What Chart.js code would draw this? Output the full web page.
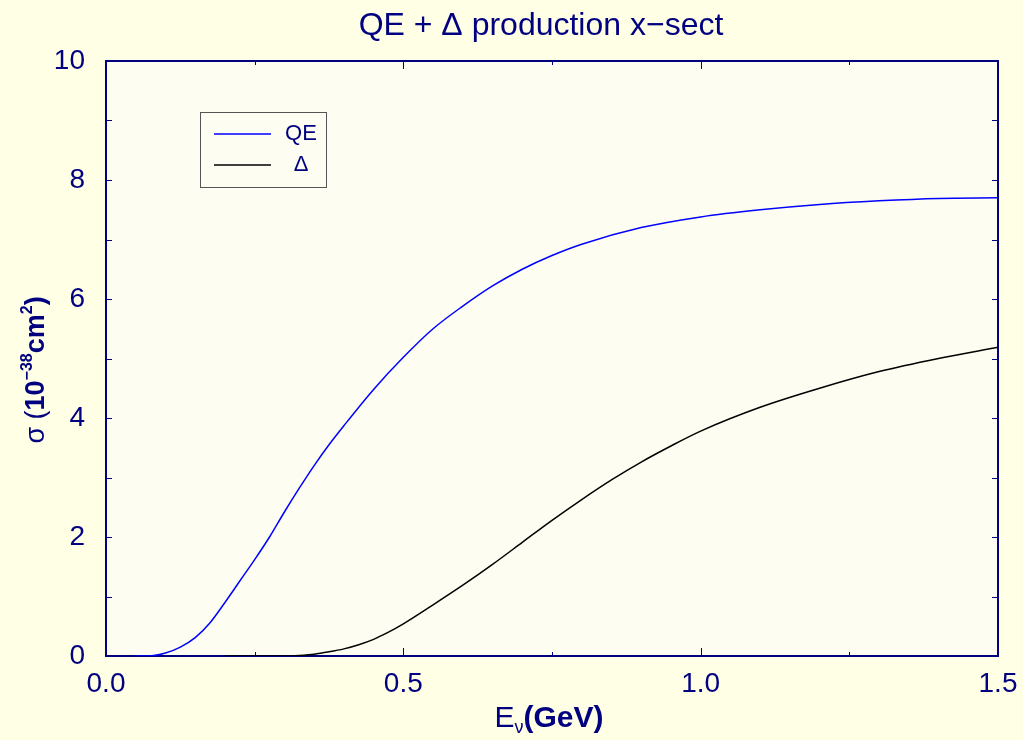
<!DOCTYPE html>
<html>
<head>
<meta charset="utf-8">
<script src="https://cdn.jsdelivr.net/npm/chart.js@4.4.0/dist/chart.umd.min.js"></script>
<style>
  html, body { margin: 0; padding: 0; background: #ffffe6; }
  #box { width: 1023px; height: 740px; }
</style>
</head>
<body>
<div id="box"><canvas id="xsect"></canvas></div>
<script>
"use strict";

// neutrino energy (GeV) and cross sections (10^-38 cm^2)
const qeEnergy = [0.05, 0.08, 0.10, 0.125, 0.15, 0.175, 0.20, 0.225, 0.25, 0.275, 0.30, 0.325, 0.35, 0.375, 0.40, 0.45, 0.50, 0.55, 0.60, 0.65, 0.70, 0.75, 0.80, 0.90, 1.00, 1.10, 1.20, 1.30, 1.40, 1.50];
const qeSigma = [0, 0.01, 0.05, 0.15, 0.31, 0.56, 0.90, 1.26, 1.62, 2.0, 2.42, 2.82, 3.20, 3.55, 3.87, 4.48, 5.02, 5.50, 5.88, 6.22, 6.50, 6.73, 6.92, 7.20, 7.38, 7.50, 7.59, 7.65, 7.69, 7.70];

const deltaEnergy = [0.20, 0.25, 0.30, 0.325, 0.35, 0.375, 0.40, 0.425, 0.45, 0.475, 0.50, 0.55, 0.60, 0.65, 0.70, 0.75, 0.80, 0.85, 0.90, 0.95, 1.00, 1.10, 1.20, 1.30, 1.40, 1.50];
const deltaSigma = [0, 0, 0, 0.01, 0.03, 0.07, 0.12, 0.19, 0.28, 0.40, 0.54, 0.86, 1.19, 1.54, 1.91, 2.28, 2.63, 2.96, 3.26, 3.53, 3.78, 4.18, 4.50, 4.78, 5.00, 5.19];

const xTicks = [0, 0.5, 1.0, 1.5];
const yTicks = [0, 2, 4, 6, 8, 10];

const navy = "#000080";
const fontName = "'Liberation Sans', Arial, sans-serif";

function points(xs, ys) {
  return xs.map((x, i) => ({ x: x, y: ys[i] }));
}

// draw a run of text pieces, each with its own font and vertical shift
function drawPieces(ctx, pieces, x, y, align) {
  let total = 0;
  pieces.forEach((p) => {
    ctx.font = p.font;
    p.w = ctx.measureText(p.text).width;
    total += p.w;
  });
  let cx = align === "center" ? x - total / 2 : x;
  pieces.forEach((p) => {
    ctx.font = p.font;
    ctx.fillText(p.text, cx, y + (p.dy || 0));
    cx += p.w;
  });
}

const framePlugin = {
  id: "frame",
  beforeDraw(chart) {
    const { ctx, chartArea: a } = chart;
    ctx.save();
    ctx.fillStyle = "#ffffe6";
    ctx.fillRect(0, 0, chart.width, chart.height);
    ctx.fillStyle = "#fdfdf2";
    ctx.fillRect(a.left, a.top, a.right - a.left, a.bottom - a.top);
    ctx.restore();
  },
  // frame and inward ticks go under the curves
  beforeDatasetsDraw(chart) {
    const { ctx, chartArea: a, scales } = chart;
    const xs = scales.x;
    const ys = scales.y;
    ctx.save();
    ctx.strokeStyle = navy;
    ctx.lineWidth = 2;
    ctx.strokeRect(a.left, a.top, a.right - a.left, a.bottom - a.top);

    ctx.lineWidth = 1;
    ctx.beginPath();
    for (let v = 0.25; v < 1.5; v += 0.25) {
      const px = Math.round(xs.getPixelForValue(v)) + 0.5;
      const len = Math.abs(v % 0.5) < 1e-6 ? 8 : 4;
      ctx.moveTo(px, a.bottom);
      ctx.lineTo(px, a.bottom - len);
      ctx.moveTo(px, a.top);
      ctx.lineTo(px, a.top + len);
    }
    for (let v = 1; v < 10; v++) {
      const py = Math.round(ys.getPixelForValue(v)) + 0.5;
      ctx.moveTo(a.left, py);
      ctx.lineTo(a.left + 6, py);
      ctx.moveTo(a.right, py);
      ctx.lineTo(a.right - 6, py);
    }
    ctx.stroke();
    ctx.restore();
  },
  afterDraw(chart) {
    const { ctx, chartArea: a } = chart;
    ctx.save();

    // title
    ctx.fillStyle = navy;
    ctx.textBaseline = "alphabetic";
    ctx.textAlign = "left";
    drawPieces(ctx, [{ text: "QE + \u0394 production x\u2212sect", font: "32px " + fontName }], 541, 35, "center");

    // x axis title
    drawPieces(ctx, [
      { text: "E", font: "30px " + fontName },
      { text: "\u03bd", font: "18px " + fontName, dy: 6 },
      { text: "(GeV)", font: "bold 30px " + fontName },
    ], 549, 727, "center");

    // y axis title
    ctx.save();
    ctx.translate(44, 370);
    ctx.rotate(-Math.PI / 2);
    drawPieces(ctx, [
      { text: "\u03c3 (", font: "27px " + fontName },
      { text: "10", font: "bold 27px " + fontName },
      { text: "\u221238", font: "bold 16px " + fontName, dy: -12 },
      { text: "cm", font: "bold 27px " + fontName },
      { text: "2", font: "bold 16px " + fontName, dy: -12 },
      { text: ")", font: "bold 27px " + fontName },
    ], 0, 0, "center");
    ctx.restore();

    // legend box
    const lx = a.left + 94;
    const ly = a.top + 51;
    ctx.strokeStyle = "#555555";
    ctx.lineWidth = 1;
    ctx.strokeRect(lx + 0.5, ly + 0.5, 126, 75);
    chart.data.datasets.forEach((ds, i) => {
      const ry = ly + 22 + i * 31;
      ctx.strokeStyle = ds.borderColor;
      ctx.lineWidth = 1.5;
      ctx.beginPath();
      ctx.moveTo(lx + 14, ry);
      ctx.lineTo(lx + 71, ry);
      ctx.stroke();
      ctx.fillStyle = navy;
      ctx.font = "22px " + fontName;
      ctx.textBaseline = "middle";
      ctx.textAlign = "center";
      ctx.fillText(ds.label, lx + 101, ry);
    });
    ctx.restore();
  },
};

const ctxXsect = document.getElementById("xsect");

new Chart(ctxXsect, {
  type: "line",
  data: {
    datasets: [
      {
        label: "QE",
        data: points(qeEnergy, qeSigma),
        borderColor: "#0000ff",
        borderWidth: 1.5,
        pointRadius: 0,
        cubicInterpolationMode: "monotone",
      },
      {
        label: "\u0394",
        data: points(deltaEnergy, deltaSigma),
        borderColor: "#000000",
        borderWidth: 1.5,
        pointRadius: 0,
        cubicInterpolationMode: "monotone",
      },
    ],
  },
  options: {
    responsive: true,
    maintainAspectRatio: false,
    animation: false,
    layout: {
      padding: { top: 61, right: 25, left: 0, bottom: 0 },
    },
    plugins: {
      legend: { display: false },
      tooltip: { enabled: false },
    },
    scales: {
      x: {
        type: "linear",
        min: 0,
        max: 1.5,
        afterBuildTicks: (scale) => {
          scale.ticks = xTicks.map((v) => ({ value: v }));
        },
        afterFit: (scale) => {
          scale.height = 84;
          scale.paddingLeft = 0;
          scale.paddingRight = 0;
        },
        grid: { display: false, drawTicks: false },
        border: { display: false },
        ticks: {
          color: navy,
          padding: 11,
          maxRotation: 0,
          font: { family: fontName, size: 28 },
          callback: (v) => Number(v).toFixed(1),
        },
      },
      y: {
        min: 0,
        max: 10,
        afterBuildTicks: (scale) => {
          scale.ticks = yTicks.map((v) => ({ value: v }));
        },
        afterFit: (scale) => {
          scale.width = 106;
          scale.paddingTop = 0;
          scale.paddingBottom = 0;
        },
        grid: { display: false, drawTicks: false },
        border: { display: false },
        ticks: {
          color: navy,
          padding: 21,
          font: { family: fontName, size: 28 },
        },
      },
    },
  },
  plugins: [framePlugin],
});
</script>
</body>
</html>
